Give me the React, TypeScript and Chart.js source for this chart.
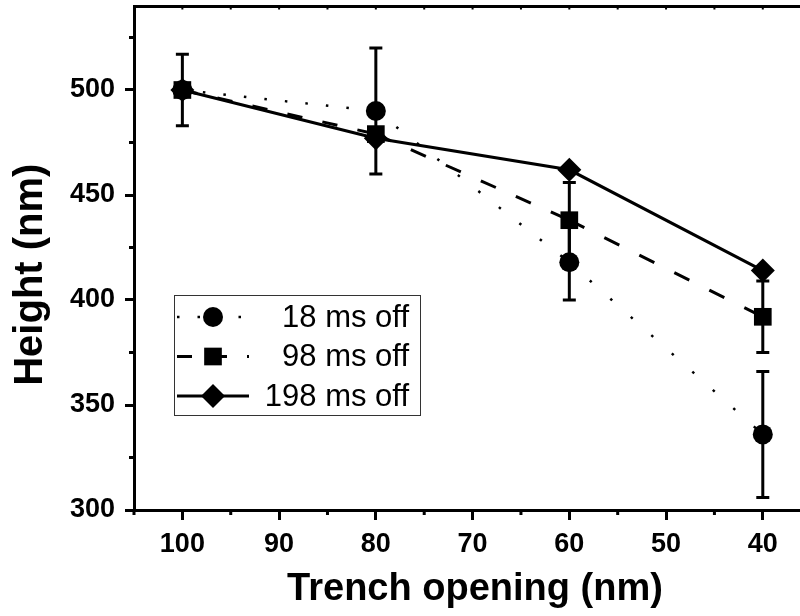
import React, { useEffect, useRef } from "react";
import { Chart, registerables } from "chart.js";

Chart.register(...registerables);

// ---- data ----
const OPENINGS = [100, 80, 60, 40];
const H_18 = [500, 490, 418, 336];
const ERR_18 = [17, 30, 18, 30];
const H_98 = [500, 479, 438, 392];
const ERR_98 = [0, 0, 18, 17];
const H_198 = [500, 477, 462, 414];
const SERIES_LABELS = ["18 ms off", "98 ms off", "198 ms off"];
const X_TICKS = [100, 90, 80, 70, 60, 50, 40];
const X_MINOR = [105, 95, 85, 75, 65, 55, 45];
const X_TOP = [105, 100, 95, 90, 85, 80, 75, 70, 65, 60, 55, 50, 45, 40, 35];
const Y_TICKS = [300, 350, 400, 450, 500];
const Y_MINOR = [325, 375, 425, 475, 525];

const FONT = '"Liberation Sans", Arial, Helvetica, sans-serif';

const pts = (ys: number[]) => OPENINGS.map((x, i) => ({ x, y: ys[i] }));

// dash pattern measured along x (like the original), converted to along-line lengths
const dotted = (ctx: any) => {
  const dx = Math.abs(ctx.p1.x - ctx.p0.x);
  const dy = ctx.p1.y - ctx.p0.y;
  const k = dx > 0 ? Math.hypot(dx, dy) / dx : 1;
  return [2.5, 20.5 * k - 2.5];
};
const dashed = (ctx: any) => {
  const dx = Math.abs(ctx.p1.x - ctx.p0.x);
  const dy = ctx.p1.y - ctx.p0.y;
  const k = dx > 0 ? Math.hypot(dx, dy) / dx : 1;
  return [15 * k, 20 * k];
};

const ERRORS: (number[] | null)[] = [ERR_18, ERR_98, null];
const LEGEND_DASH = [[2.5, 18], [15, 20], []];
const LEGEND_WIDTH = [2.5, 3, 3];

function drawMarker(ctx: CanvasRenderingContext2D, style: string, r: number, x: number, y: number) {
  ctx.beginPath();
  if (style === "circle") {
    ctx.arc(x, y, r, 0, Math.PI * 2);
  } else if (style === "rect") {
    const s = r * Math.SQRT1_2;
    ctx.rect(x - s, y - s, 2 * s, 2 * s);
  } else {
    ctx.moveTo(x - r, y);
    ctx.lineTo(x, y - r);
    ctx.lineTo(x + r, y);
    ctx.lineTo(x, y + r);
    ctx.closePath();
  }
  ctx.fill();
}

const errorBarPlugin = {
  id: "errorBars",
  afterDatasetsDraw(chart: any) {
    const ctx = chart.ctx as CanvasRenderingContext2D;
    const ys = chart.scales.y;
    const xs = chart.scales.x;
    ctx.save();
    ctx.strokeStyle = "#000";
    ctx.lineWidth = 3;
    chart.data.datasets.forEach((ds: any, di: number) => {
      const errs = ERRORS[di];
      if (!errs) return;
      ds.data.forEach((p: any, i: number) => {
        const e = errs[i];
        if (!e) return;
        const px = xs.getPixelForValue(p.x);
        const top = ys.getPixelForValue(p.y + e);
        const bot = ys.getPixelForValue(p.y - e);
        ctx.beginPath();
        ctx.moveTo(px, top);
        ctx.lineTo(px, bot);
        ctx.moveTo(px - 6.5, top);
        ctx.lineTo(px + 6.5, top);
        ctx.moveTo(px - 6.5, bot);
        ctx.lineTo(px + 6.5, bot);
        ctx.stroke();
      });
    });
    ctx.restore();
  },
};

const minorTickPlugin = {
  id: "minorTicks",
  afterDraw(chart: any) {
    const ctx = chart.ctx as CanvasRenderingContext2D;
    const { chartArea } = chart;
    const xs = chart.scales.x;
    const ys = chart.scales.y;
    ctx.save();
    ctx.strokeStyle = "#000";
    ctx.lineWidth = 3;
    ctx.beginPath();
    X_MINOR.forEach((v) => {
      const px = xs.getPixelForValue(v);
      if (px < chartArea.left - 1 || px > chartArea.right + 1) return;
      ctx.moveTo(px, chartArea.bottom);
      ctx.lineTo(px, chartArea.bottom + 5);
    });
    Y_MINOR.forEach((v) => {
      const py = ys.getPixelForValue(v);
      ctx.moveTo(chartArea.left, py);
      ctx.lineTo(chartArea.left - 5, py);
    });
    ctx.stroke();
    ctx.lineWidth = 2;
    ctx.beginPath();
    X_TOP.forEach((v) => {
      const px = xs.getPixelForValue(v);
      if (px < chartArea.left + 2 || px > chartArea.right) return;
      ctx.moveTo(px, chartArea.top);
      ctx.lineTo(px, chartArea.top + 3.5);
    });
    ctx.stroke();
    ctx.restore();
  },
};

const boxLegendPlugin = {
  id: "boxLegend",
  afterDraw(chart: any) {
    const ctx = chart.ctx as CanvasRenderingContext2D;
    const { chartArea } = chart;
    const bx = chartArea.left + 40;
    const by = chartArea.top + 289;
    const bw = 246;
    const bh = 120;
    ctx.save();
    ctx.fillStyle = "#fff";
    ctx.fillRect(bx, by, bw, bh);
    ctx.strokeStyle = "#333";
    ctx.lineWidth = 1;
    ctx.strokeRect(bx + 0.5, by + 0.5, bw, bh);
    chart.data.datasets.forEach((ds: any, i: number) => {
      const cy = by + 22 + i * 39.5;
      ctx.strokeStyle = "#000";
      ctx.lineWidth = LEGEND_WIDTH[i];
      ctx.setLineDash(LEGEND_DASH[i]);
      ctx.beginPath();
      ctx.moveTo(bx + 3, cy);
      ctx.lineTo(bx + 75, cy);
      ctx.stroke();
      ctx.setLineDash([]);
      ctx.fillStyle = "#000";
      drawMarker(ctx, ds.pointStyle, ds.pointRadius, bx + 39, cy);
      ctx.font = `31px ${FONT}`;
      ctx.textAlign = "right";
      ctx.textBaseline = "middle";
      ctx.fillText(ds.label, bx + bw - 11, cy + 1);
    });
    ctx.restore();
  },
};

const X_MIN = 34.5;
const X_MAX = 105;

export default function App() {
  const ref = useRef<HTMLCanvasElement | null>(null);

  useEffect(() => {
    if (!ref.current) return;
    const zeroPad = (s: any) => {
      s.paddingTop = 0;
      s.paddingBottom = 0;
      s.paddingLeft = 0;
      s.paddingRight = 0;
    };
    const chart = new Chart(ref.current, {
      type: "line",
      data: {
        datasets: [
          {
            label: SERIES_LABELS[0],
            data: pts(H_18),
            borderColor: "#000",
            backgroundColor: "#000",
            borderWidth: 2.5,
            segment: { borderDash: dotted },
            pointStyle: "circle",
            pointRadius: 10,
            pointBorderWidth: 0,
            pointBackgroundColor: "#000",
            tension: 0,
            fill: false,
          },
          {
            label: SERIES_LABELS[1],
            data: pts(H_98),
            borderColor: "#000",
            backgroundColor: "#000",
            borderWidth: 3,
            segment: { borderDash: dashed },
            pointStyle: "rect",
            pointRadius: 12.5,
            pointBorderWidth: 0,
            pointBackgroundColor: "#000",
            tension: 0,
            fill: false,
          },
          {
            label: SERIES_LABELS[2],
            data: pts(H_198),
            borderColor: "#000",
            backgroundColor: "#000",
            borderWidth: 3,
            pointStyle: "rectRot",
            pointRadius: 12,
            pointBorderWidth: 0,
            pointBackgroundColor: "#000",
            tension: 0,
            fill: false,
          },
        ],
      },
      options: {
        animation: false,
        responsive: false,
        devicePixelRatio: 1,
        layout: { padding: 0, autoPadding: false },
        plugins: {
          legend: { display: false },
          tooltip: { enabled: false },
        },
        scales: {
          x: {
            type: "linear",
            position: "bottom",
            reverse: true,
            min: X_MIN,
            max: X_MAX,
            afterBuildTicks: (s: any) => {
              s.ticks = X_TICKS.map((v) => ({ value: v }));
            },
            afterFit: (s: any) => {
              s.height = 106;
              zeroPad(s);
            },
            grid: {
              drawOnChartArea: false,
              drawTicks: true,
              tickLength: 10,
              tickWidth: 3,
              color: "#000",
            },
            border: { display: true, width: 3, color: "#000" },
            ticks: {
              color: "#000",
              padding: 8,
              maxRotation: 0,
              autoSkip: false,
              font: { family: FONT, size: 27, weight: "bold" },
              callback: (v: any) => String(v),
            },
            title: {
              display: true,
              text: "Trench opening (nm)",
              color: "#000",
              font: { family: FONT, size: 38, weight: "bold" },
              padding: { top: 0, bottom: 4 },
            },
          },
          x2: {
            type: "linear",
            position: "top",
            reverse: true,
            min: X_MIN,
            max: X_MAX,
            afterFit: (s: any) => {
              s.height = 6;
              zeroPad(s);
            },
            grid: { drawOnChartArea: false, drawTicks: false },
            border: { display: true, width: 3, color: "#000" },
            ticks: { display: false },
          },
          y: {
            type: "linear",
            position: "left",
            min: 300,
            max: 540,
            afterBuildTicks: (s: any) => {
              s.ticks = Y_TICKS.map((v) => ({ value: v }));
            },
            afterFit: (s: any) => {
              s.width = 134;
              zeroPad(s);
            },
            grid: {
              drawOnChartArea: false,
              drawTicks: true,
              tickLength: 9,
              tickWidth: 3,
              color: "#000",
            },
            border: { display: true, width: 3, color: "#000" },
            ticks: {
              color: "#000",
              padding: 10,
              autoSkip: false,
              font: { family: FONT, size: 27, weight: "bold" },
              callback: (v: any) => String(v),
            },
            title: {
              display: true,
              text: "Height (nm)   ",
              color: "#000",
              font: { family: FONT, size: 40, weight: "bold" },
              padding: { top: 7, bottom: 0 },
            },
          },
        },
      } as any,
      plugins: [errorBarPlugin, minorTickPlugin, boxLegendPlugin],
    });
    return () => chart.destroy();
  }, []);

  return (
    <div
      style={{
        position: "absolute",
        left: 0,
        top: 0,
        width: 800,
        height: 616,
        overflow: "hidden",
        background: "#fff",
      }}
    >
      <div style={{ width: 816, height: 616 }}>
        <canvas
          ref={ref}
          width={816}
          height={616}
          style={{ display: "block", width: 816, height: 616 }}
        />
      </div>
    </div>
  );
}
